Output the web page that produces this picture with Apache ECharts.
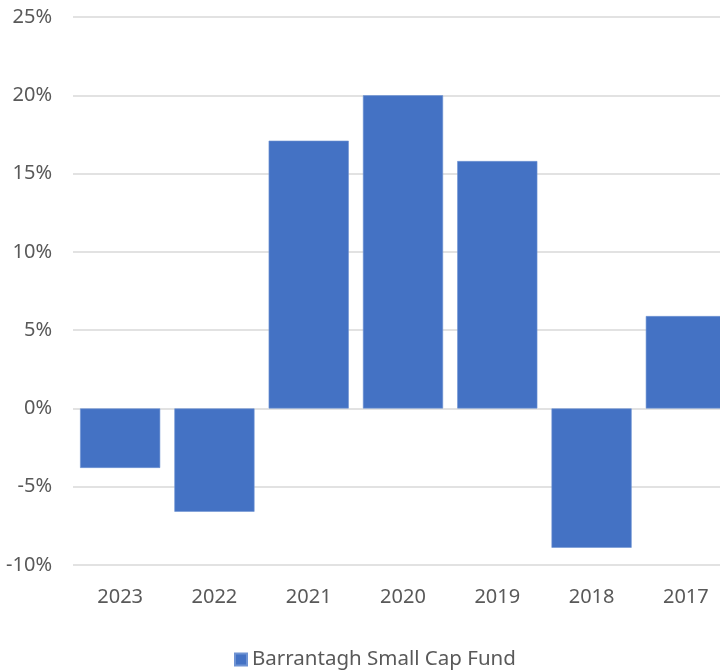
<!DOCTYPE html>
<html>
<head>
<meta charset="utf-8">
<script src="https://cdn.jsdelivr.net/npm/echarts@6/dist/echarts.min.js"></script>
<style>html,body{margin:0;padding:0;background:#fff;overflow:hidden;width:720px;height:672px;}#c{width:733px;height:672px;}</style>
</head>
<body>
<div id="c"></div>
<script>
const categories = ['2023', '2022', '2021', '2020', '2019', '2018', '2017'];
const seriesName = 'Barrantagh Small Cap Fund';
const returns = [-3.8, -6.6, 17.1, 20.0, 15.8, -8.9, 5.9];
const yTicks = { min: -10, max: 25, interval: 5 };

const chart = echarts.init(document.getElementById('c'), null, { renderer: 'canvas' });
chart.setOption({
  animation: false,
  textStyle: { fontFamily: 'Noto Sans' },
  grid: { left: 73, top: 17, right: 0, bottom: 107, containLabel: false },
  legend: {
    data: [seriesName],
    top: 649,
    left: 234,
    padding: 0,
    icon: 'rect',
    itemWidth: 12,
    itemHeight: 12,
    itemGap: 8,
    textStyle: { color: '#595959', fontSize: 20.5, fontFamily: 'Noto Sans' }
  },
  xAxis: {
    type: 'category',
    data: categories,
    axisLine: { show: false, onZero: false },
    axisTick: { show: false },
    axisLabel: { color: '#595959', fontSize: 20, margin: 22 }
  },
  yAxis: {
    type: 'value',
    min: yTicks.min,
    max: yTicks.max,
    interval: yTicks.interval,
    axisLine: { show: false },
    axisTick: { show: false },
    axisLabel: { color: '#595959', fontSize: 20, margin: 21, formatter: v => v + '%' },
    splitLine: { lineStyle: { color: '#d9d9d9', width: 1.5 } }
  },
  series: [{
    name: seriesName,
    type: 'bar',
    data: returns,
    barCategoryGap: '15%',
    itemStyle: { color: '#4472C4', borderColor: '#6f93d3', borderWidth: 0.6 }
  }]
});
</script>
</body>
</html>
